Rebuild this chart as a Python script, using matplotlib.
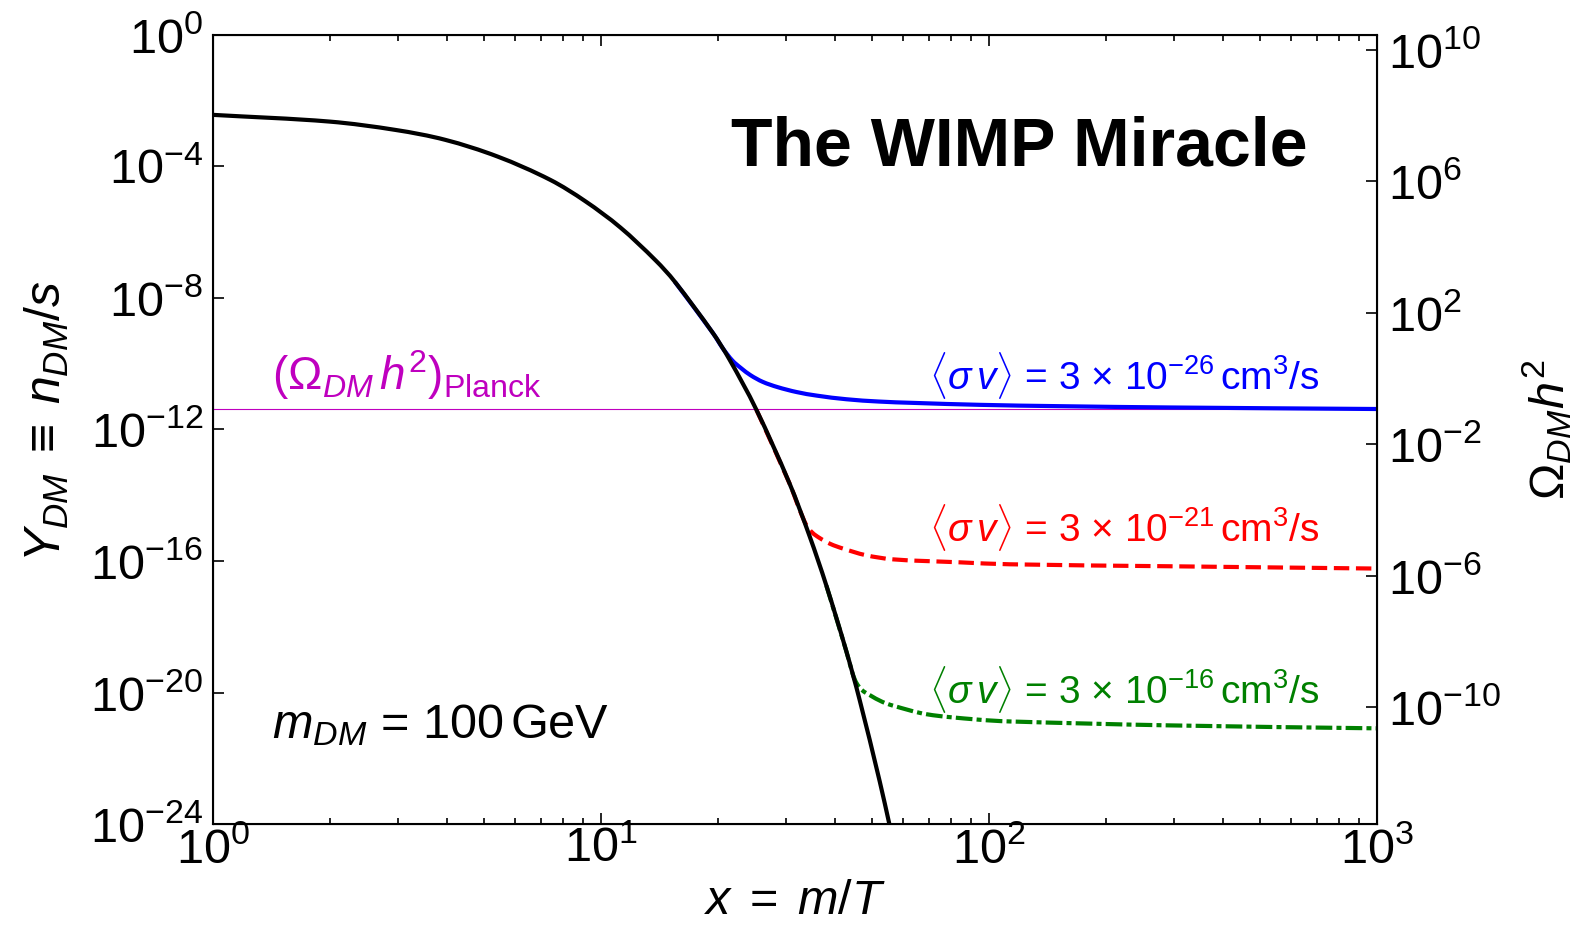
import numpy as np
import matplotlib
matplotlib.use("Agg")
import matplotlib.pyplot as plt
from matplotlib.path import Path
from matplotlib.patches import PathPatch
from matplotlib.ticker import FixedLocator, NullLocator

plt.rcParams['font.family'] = ['Liberation Sans', 'DejaVu Sans']
plt.rcParams['mathtext.fontset'] = 'custom'
plt.rcParams['mathtext.rm'] = 'Liberation Sans'
plt.rcParams['mathtext.it'] = 'Liberation Sans:italic'
plt.rcParams['mathtext.bf'] = 'Liberation Sans:bold'

# equilibrium abundance (log10 Y)
x_eq = [1.0, 2.0, 2.96, 3.97, 5.42, 7.41, 9.12, 11.23, 13.84, 15.51, 19.44,
        21.46, 25.15, 30.64, 34.5, 38.1, 42.9, 46.4, 52.3, 55.5]
logY_eq = [-2.43, -2.635, -2.89, -3.19, -3.70, -4.41, -5.06, -5.86, -6.86, -7.51, -9.07,
           -9.88, -11.40, -13.65, -15.25, -16.75, -18.75, -20.22, -22.71, -24.06]

# freeze-out for <sigma v> = 3e-26 cm^3/s
x_26 = [15.51, 19.44, 20.6, 21.8, 23.0, 24.3, 26.1, 28.5, 31.9, 36.0, 42.9, 52.0, 63.6,
        94.6, 150, 292, 1000]
logY_26 = [-7.51, -9.07, -9.53, -9.90, -10.14, -10.35, -10.55, -10.71, -10.86, -10.97,
           -11.08, -11.15, -11.19, -11.25, -11.29, -11.33, -11.377]

# <sigma v> = 3e-21 cm^3/s
x_21 = [25.15, 30.64, 32.5, 33.8, 35.0, 36.6, 39.0, 42.0, 48.0, 56.6, 84.0, 113, 292, 1000]
logY_21 = [-11.40, -13.65, -14.44, -14.90, -15.13, -15.30, -15.48, -15.62, -15.82, -15.95,
           -16.04, -16.10, -16.16, -16.23]

# <sigma v> = 3e-16 cm^3/s
x_16 = [38.1, 42.9, 44.5, 45.5, 47.0, 49.3, 53.0, 56.6, 69.0, 92.7, 113, 292, 1000]
logY_16 = [-16.75, -18.75, -19.42, -19.70, -19.92, -20.08, -20.28, -20.40, -20.66, -20.82,
           -20.88, -21.00, -21.09]

omega_shift = 10.456   # log10(Omega h^2 / Y) for m = 100 GeV
omega_planck = 0.12


def smooth_curve(xs, logys):
    # cubic hermite segments in log-log space, handed to matplotlib as bezier path
    lx = np.log10(xs)
    ly = np.array(logys, dtype=float)
    n = len(lx)
    m = np.empty(n)
    m[0] = (ly[1] - ly[0]) / (lx[1] - lx[0])
    m[-1] = (ly[-1] - ly[-2]) / (lx[-1] - lx[-2])
    for i in range(1, n - 1):
        m[i] = (ly[i + 1] - ly[i - 1]) / (lx[i + 1] - lx[i - 1])
    verts = [(lx[0], ly[0])]
    codes = [Path.MOVETO]
    for i in range(n - 1):
        h = lx[i + 1] - lx[i]
        verts += [(lx[i] + h / 3, ly[i] + m[i] * h / 3),
                  (lx[i + 1] - h / 3, ly[i + 1] - m[i + 1] * h / 3),
                  (lx[i + 1], ly[i + 1])]
        codes += [Path.CURVE4] * 3
    return Path(10 ** np.array(verts), codes)


fig = plt.figure(figsize=(15.75, 9.35), dpi=100)
ax = fig.add_axes([0.1352, 0.1187, 0.7391, 0.8439])
ax.set_xscale('log')
ax.set_yscale('log')
ax.set_xlim(1, 1000)
ax.set_ylim(1e-24, 1)

ax.axhline(omega_planck / 10**omega_shift, color='m', lw=0.8, zorder=1)
ax.add_patch(PathPatch(smooth_curve(x_26, logY_26), fill=False, ec='b', lw=3, zorder=2))
ax.add_patch(PathPatch(smooth_curve(x_21, logY_21), fill=False, ec='r', lw=3,
                       ls='--', zorder=2))
ax.add_patch(PathPatch(smooth_curve(x_16, logY_16), fill=False, ec='g', lw=3,
                       ls=(0, (4, 1, 1.2, 1)), zorder=2))
ax.add_patch(PathPatch(smooth_curve(x_eq, logY_eq), fill=False, ec='k', lw=3, zorder=3))

ax.yaxis.set_major_locator(FixedLocator([10.0**(-k) for k in range(0, 25, 4)]))
ax.yaxis.set_minor_locator(NullLocator())
ax.tick_params(which='both', direction='in', top=True, right=False, labelsize=35, width=1.2)
ax.tick_params(which='major', length=8)
ax.tick_params(which='minor', length=4)
ax.tick_params(axis='x', pad=2)
ax.tick_params(axis='y', pad=7)
for s in ax.spines.values():
    s.set_linewidth(1.5)

ax.set_xlabel(r'$x\;=\;m/T$', fontsize=35)
ax.xaxis.set_label_coords(0.5, -0.07)
ax.set_ylabel(r'$Y_{DM}\;\equiv\;n_{DM}/s$', fontsize=36)
ax.yaxis.set_label_coords(-0.122, 0.51)

ax2 = ax.twinx()
ax2.set_yscale('log')
ax2.set_ylim(10**(-24 + omega_shift), 10**omega_shift)
ax2.yaxis.set_major_locator(FixedLocator([1e10, 1e6, 1e2, 1e-2, 1e-6, 1e-10]))
ax2.yaxis.set_minor_locator(NullLocator())
ax2.tick_params(which='both', direction='in', labelsize=35, length=8, width=1.2, pad=8)
ax2.set_ylabel(r'$\Omega_{DM}h^2$', fontsize=35)
ax2.yaxis.set_label_coords(1.123, 0.5)

ax.text(0.94, 0.858, 'The WIMP Miracle', transform=ax.transAxes, fontsize=49,
        fontweight='bold', ha='right', va='center')
ax.text(0.051, 0.569, r'$(\Omega_{DM}\,h^2)_\mathrm{Planck}$', transform=ax.transAxes,
        fontsize=33, color='m', ha='left', va='center')
ax.text(0.051, 0.125, r'$m_{DM}$ = 100$\,$GeV', transform=ax.transAxes,
        fontsize=35, ha='left', va='center')
sv_labels = [(0.569, '26', 'b'), (0.376, '21', 'r'), (0.170, '16', 'g')]
for ypos, expo, col in sv_labels:
    ax.text(0.951, ypos,
            r'$\langle\sigma\,v\rangle$ = 3 $\times$ 10$^{-' + expo + r'}\,$cm$^3$/s',
            transform=ax.transAxes, fontsize=28, color=col, ha='right', va='center')

fig.savefig('out.png', dpi=100)
